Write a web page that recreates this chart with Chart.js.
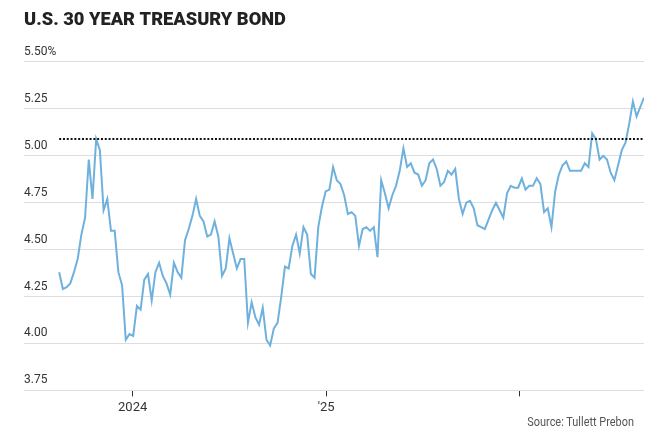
<!DOCTYPE html>
<html>
<head>
<meta charset="utf-8">
<script src="https://cdn.jsdelivr.net/npm/chart.js@4/dist/chart.umd.min.js"></script>
<style>
    html, body { margin: 0; padding: 0; background: #fff; }
    .wrap { position: relative; width: 659px; height: 437px; }
    .source {
        position: absolute;
        right: 25px;
        top: 414px;
        font: 13px Roboto, sans-serif;
        color: #555;
        transform: scaleX(0.84);
        transform-origin: right center;
        white-space: nowrap;
    }
</style>
</head>
<body>
<div class="wrap">
    <canvas id="bondChart"></canvas>
    <div class="source">Source: Tullett Prebon</div>
</div>
<script>
// weekly 30-year yield, % (first week: mid-August 2023)
const firstWeek = Date.UTC(2023, 7, 15);
const yields = [
    4.38, 4.29, 4.30, 4.32, 4.38, 4.45, 4.58, 4.67, 4.98, 4.77,
    5.09, 5.03, 4.71, 4.77, 4.60, 4.60, 4.38, 4.31, 4.02, 4.05,
    4.04, 4.20, 4.18, 4.34, 4.37, 4.23, 4.38, 4.43, 4.36, 4.32,
    4.26, 4.43, 4.38, 4.35, 4.55, 4.61, 4.68, 4.77, 4.68, 4.65,
    4.57, 4.58, 4.65, 4.57, 4.36, 4.40, 4.56, 4.48, 4.40, 4.45,
    4.45, 4.11, 4.22, 4.14, 4.10, 4.19, 4.02, 3.99, 4.08, 4.11,
    4.25, 4.41, 4.40, 4.52, 4.58, 4.48, 4.62, 4.58, 4.37, 4.35,
    4.62, 4.73, 4.81, 4.82, 4.94, 4.87, 4.85, 4.79, 4.69, 4.70,
    4.68, 4.52, 4.61, 4.62, 4.60, 4.62, 4.46, 4.87, 4.80, 4.72,
    4.79, 4.84, 4.92, 5.04, 4.94, 4.96, 4.91, 4.90, 4.84, 4.87,
    4.96, 4.98, 4.93, 4.84, 4.86, 4.92, 4.90, 4.93, 4.77, 4.69,
    4.75, 4.76, 4.72, 4.63, 4.62, 4.61, 4.66, 4.71, 4.75, 4.71,
    4.67, 4.80, 4.84, 4.83, 4.83, 4.88, 4.82, 4.84, 4.84, 4.88,
    4.85, 4.70, 4.72, 4.62, 4.81, 4.90, 4.95, 4.97, 4.92, 4.92,
    4.92, 4.92, 4.96, 4.94, 5.12, 5.09, 4.98, 5.00, 4.98, 4.91,
    4.87, 4.95, 5.03, 5.07, 5.17, 5.29, 5.21, 5.26, 5.31,
];
const peakLevel = 5.09;

const yTicks = [3.75, 4.00, 4.25, 4.50, 4.75, 5.00, 5.25, 5.50];
const tickYears = [2024, 2025, 2026];
const tickLabels = ['2024', "'25", ''];

const WEEK = 7 * 864e5;
const yearWeeks = tickYears.map((y) => (Date.UTC(y, 0, 1) - firstWeek) / WEEK);

const ctx = document.getElementById('bondChart');

new Chart(ctx, {
    type: 'line',
    data: {
        datasets: [
            {
                label: 'peak',
                data: [{ x: 0, y: peakLevel }, { x: yields.length - 1, y: peakLevel }],
                borderColor: '#111',
                borderWidth: 2,
                borderDash: [2, 1.8],
                pointRadius: 0,
                order: 0,
            },
            {
                label: '30-year yield',
                data: yields.map((v, i) => ({ x: i, y: v })),
                borderColor: '#6fb1dd',
                borderWidth: 2,
                pointRadius: 0,
                tension: 0,
                order: 1,
            },
        ],
    },
    options: {
        responsive: true,
        maintainAspectRatio: false,
        animation: false,
        layout: { padding: { left: 24, right: 15, top: 0, bottom: 17 } },
        plugins: {
            legend: { display: false },
            tooltip: { enabled: false },
            title: {
                display: true,
                text: 'U.S. 30 YEAR TREASURY BOND',
                align: 'start',
                color: '#222',
                font: { family: 'Roboto', size: 18.3, weight: '900' },
                padding: { top: 9, bottom: 31 },
            },
        },
        scales: {
            x: {
                type: 'linear',
                min: -9.5,
                max: 158,
                afterBuildTicks: (scale) => {
                    scale.ticks = yearWeeks.map((v) => ({ value: v }));
                },
                ticks: {
                    autoSkip: false,
                    maxRotation: 0,
                    padding: 4,
                    color: '#333',
                    font: { family: 'Roboto', size: 13 },
                    callback: (v, i) => tickLabels[i],
                },
                grid: { drawOnChartArea: false, drawTicks: true, tickLength: 6, color: '#333' },
                border: { display: false },
            },
            y: {
                type: 'linear',
                min: 3.75,
                max: 5.5,
                afterBuildTicks: (scale) => {
                    scale.ticks = yTicks.map((v) => ({ value: v }));
                },
                ticks: {
                    mirror: true,
                    padding: 0,
                    labelOffset: -10,
                    color: '#333',
                    font: { family: 'Roboto', size: 12 },
                    callback: (v) => (v === 5.5 ? v.toFixed(2) + '%' : v.toFixed(2)),
                },
                grid: { color: '#ddd', drawTicks: false },
                border: { display: false },
            },
        },
    },
});
</script>
</body>
</html>
